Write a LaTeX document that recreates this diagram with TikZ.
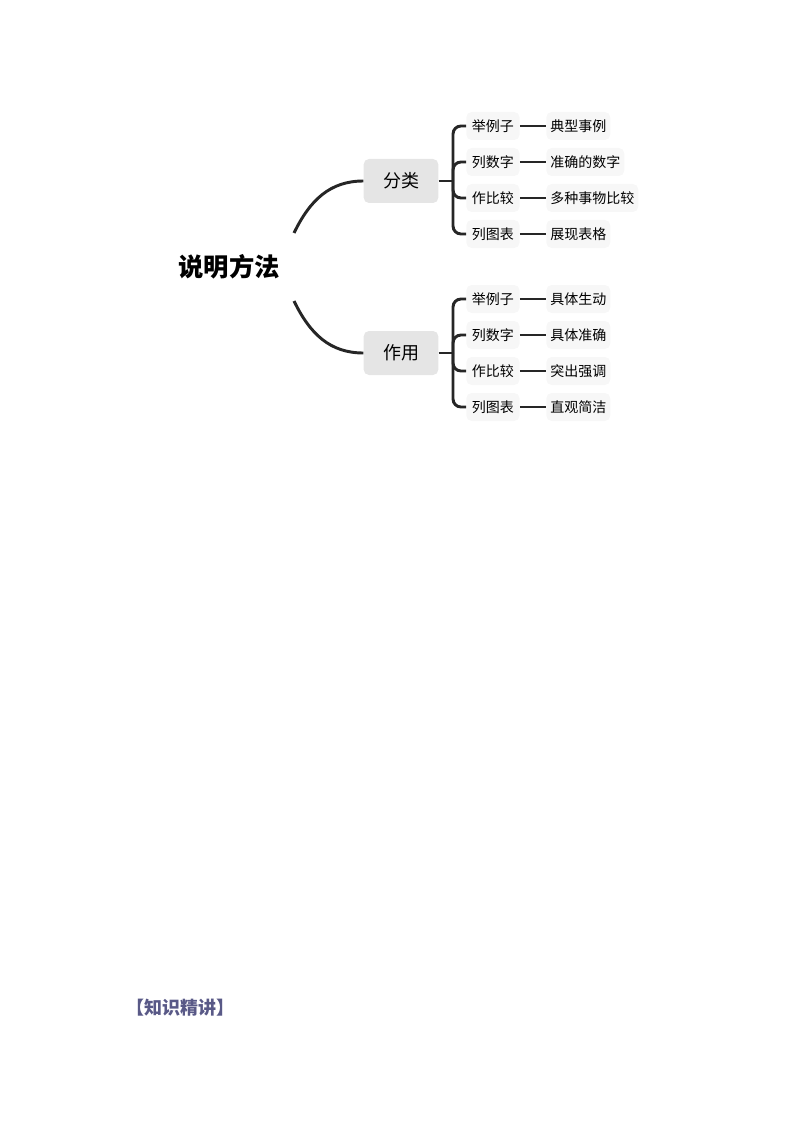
\documentclass[tikz,border=0pt]{standalone}
\usepackage{fontspec}
\setmainfont{Noto Sans CJK SC}
\begin{document}
\begin{tikzpicture}[x=0.75pt,y=-0.75pt,
  line/.style={line width=2.2pt,color=black!85},
  mid/.style={fill=black!10,rounded corners=4pt,minimum width=56pt,minimum height=33pt,font=\fontsize{13.5}{15}\selectfont,inner sep=0pt},
  leafa/.style={fill=black!3,rounded corners=4pt,minimum height=21pt,minimum width=40pt,inner sep=3pt,font=\fontsize{10.5}{12}\selectfont,anchor=west},
  leafb/.style={leafa}]
\useasboundingbox (0,0) rectangle (794,1123);
\node[font=\fontsize{19}{22}\selectfont\bfseries] (root) at (229,267) {说明方法};
\coordinate (rt) at (294,233);
\coordinate (rb) at (294,301);
\node[mid] (m1) at (401,181) {分类};
\node[mid] (m2) at (401,353) {作用};
\draw[line] (rt) .. controls (310,200) and (330,181) .. (m1.west);
\draw[line] (rb) .. controls (310,334) and (330,353) .. (m2.west);
\foreach \m/\ys/\base in {m1/{126,162,198,234}/a, m2/{299,335,371,407}/b}{
  \coordinate (\m j) at (453,0);
}
% group 1
\def\leaves#1#2#3#4#5{%
  \node[leafa] (#1a) at (466,#2) {#3};
  \node[leafb] (#1b) at (546,#2) {#4};
  \draw[line] (#1a.east) -- (#1b.west);
}
\leaves{p1}{126}{举例子}{典型事例}{}
\leaves{p2}{162}{列数字}{准确的数字}{}
\leaves{p3}{198}{作比较}{多种事物比较}{}
\leaves{p4}{234}{列图表}{展现表格}{}
\leaves{q1}{299}{举例子}{具体生动}{}
\leaves{q2}{335}{列数字}{具体准确}{}
\leaves{q3}{371}{作比较}{突出强调}{}
\leaves{q4}{407}{列图表}{直观简洁}{}
\draw[line,rounded corners=6pt] (p1a.west) -| (453,181) |- (p4a.west);
\draw[line,rounded corners=6pt] (p2a.west) -| (453,181);
\draw[line,rounded corners=6pt] (p3a.west) -| (453,181);
\draw[line] (m1.east) -- (453,181);
\draw[line,rounded corners=6pt] (q1a.west) -| (453,353) |- (q4a.west);
\draw[line,rounded corners=6pt] (q2a.west) -| (453,353);
\draw[line,rounded corners=6pt] (q3a.west) -| (453,353);
\draw[line] (m2.east) -- (453,353);
\node[anchor=west,font=\fontsize{13.5}{15}\selectfont\bfseries,text=black!40!blue!30!gray] (title) at (122,1008) {【知识精讲】};
\end{tikzpicture}
\end{document}
